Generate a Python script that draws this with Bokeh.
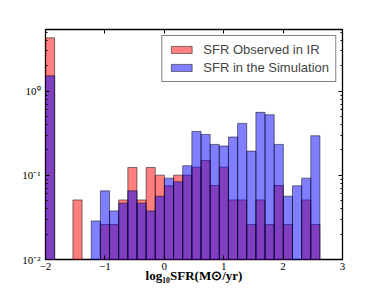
from bokeh.plotting import figure
from bokeh.models import (LinearAxis, LogAxis, FixedTicker, LogTicker,
                          CustomJSTickFormatter, ColumnDataSource)
from bokeh.embed import file_html
from bokeh.resources import INLINE

# ---- data ----
bin_edges = [-2.0, -1.846, -1.692, -1.538, -1.384, -1.230, -1.076, -0.922,
             -0.768, -0.614, -0.460, -0.306, -0.152, 0.002, 0.156, 0.310,
             0.464, 0.618, 0.772, 0.926, 1.080, 1.234, 1.388, 1.542, 1.696,
             1.850, 2.004, 2.158, 2.312, 2.466, 2.620]

sfr_observed_ir = [4.3, 0, 0, 0.051, 0, 0, 0.026, 0.026, 0.051, 0.124,
                   0.051, 0.124, 0.1005, 0.075, 0.1005, 0.1005, 0.125, 0.150,
                   0.0756, 0.125, 0.051, 0.051, 0.026, 0.051, 0.026, 0.0756,
                   0.026, 0, 0.051, 0.026]

sfr_simulation = [1.52, 0, 0, 0, 0, 0.0287, 0.0654, 0.0378, 0.0467, 0.0654,
                  0.0467, 0.0378, 0.0565, 0.0926, 0.0837, 0.130, 0.332, 0.306,
                  0.233, 0.223, 0.285, 0.414, 0.194, 0.56, 0.525, 0.233,
                  0.0565, 0.075, 0.0926, 0.295]

x_ticks = [-2, -1, 0, 1, 2, 3]
x_tick_labels = ["\u22122", "\u22121", "0", "1", "2", "3"]

series_names = ["SFR Observed in IR", "SFR in the Simulation"]
series_colors = ["#ff0000", "#0000ff"]
x_label = "log\u2081\u2080SFR(M\u2299/yr)"
BAR_BASE = 1e-3


def hist_source(values):
    left, right, top = [], [], []
    for i, v in enumerate(values):
        if v > 0:
            left.append(bin_edges[i])
            right.append(bin_edges[i + 1])
            top.append(v)
    return ColumnDataSource(dict(left=left, right=right, top=top,
                                 bottom=[BAR_BASE] * len(top)))


p = figure(frame_width=297, frame_height=230,
           x_range=(-2, 3), y_range=(0.01, 5.4), y_axis_type="log",
           output_backend="svg", toolbar_location=None,
           min_border_left=45, min_border_right=20, min_border_top=29,
           min_border_bottom=28)
p.background_fill_color = "white"
p.border_fill_color = "white"
p.grid.visible = False
p.outline_line_color = "black"
p.outline_line_width = 1.3

for vals, name, col in zip([sfr_observed_ir, sfr_simulation], series_names, series_colors):
    p.quad(left="left", right="right", top="top", bottom="bottom",
           source=hist_source(vals), fill_color=col, fill_alpha=0.5,
           line_color="black", line_alpha=0.5, line_width=1,
           legend_label=name)

serif = "Liberation Serif"

# bottom axis
xa = p.xaxis[0]
xa.ticker = FixedTicker(ticks=x_ticks)
xa.major_label_overrides = {t: l for t, l in zip(x_ticks, x_tick_labels)}
xa.axis_line_color = None
xa.major_tick_in = 4
xa.major_tick_out = 0
xa.minor_tick_line_color = None
xa.major_label_standoff = 3
xa.major_label_text_font = serif
xa.major_label_text_font_size = "11px"
xa.major_label_text_color = "black"
xa.axis_label = x_label
xa.axis_label_text_font = serif
xa.axis_label_text_font_style = "bold"
xa.axis_label_text_font_size = "13px"
xa.axis_label_standoff = -5
xa.axis_label_text_color = "black"

# left axis
ya = p.yaxis[0]
ya.axis_line_color = None
ya.major_tick_in = 4
ya.major_tick_out = 0
ya.minor_tick_in = 2
ya.minor_tick_out = 0
ya.major_label_standoff = 5
ya.major_label_text_font = serif
ya.major_label_text_font_size = "11px"
ya.major_label_text_color = "black"
ya.formatter = CustomJSTickFormatter(code="""
const e = Math.round(Math.log10(tick));
const m = {'-': '\u207b', '0': '\u2070', '1': '\u00b9', '2': '\u00b2', '3': '\u00b3'};
return '10' + String(e).split('').map(c => m[c]).join('');
""")

# mirrored axes (ticks only)
top_ax = LinearAxis(ticker=FixedTicker(ticks=x_ticks), axis_line_color=None,
                    major_tick_in=4, major_tick_out=0,
                    minor_tick_line_color=None,
                    formatter=CustomJSTickFormatter(code="return ' ';"),
                    major_label_text_font_size="2px", major_label_standoff=0)
p.add_layout(top_ax, "above")
right_ax = LogAxis(ticker=LogTicker(num_minor_ticks=10), axis_line_color=None,
                   major_tick_in=4, major_tick_out=0,
                   minor_tick_in=2, minor_tick_out=0,
                   formatter=CustomJSTickFormatter(code="return ' ';"),
                   major_label_text_font_size="2px", major_label_standoff=0)
p.add_layout(right_ax, "right")

# legend
lg = p.legend[0]
lg.location = "top_right"
lg.margin = 6
lg.padding = 6
lg.spacing = 3
lg.glyph_width = 26
lg.glyph_height = 9
lg.label_height = 12
lg.label_standoff = 9
lg.label_text_font = "Liberation Sans"
lg.label_text_font_size = "13px"
lg.border_line_color = "black"
lg.border_line_width = 1
lg.background_fill_alpha = 1.0

open("out.html", "w").write(file_html(p, INLINE))
